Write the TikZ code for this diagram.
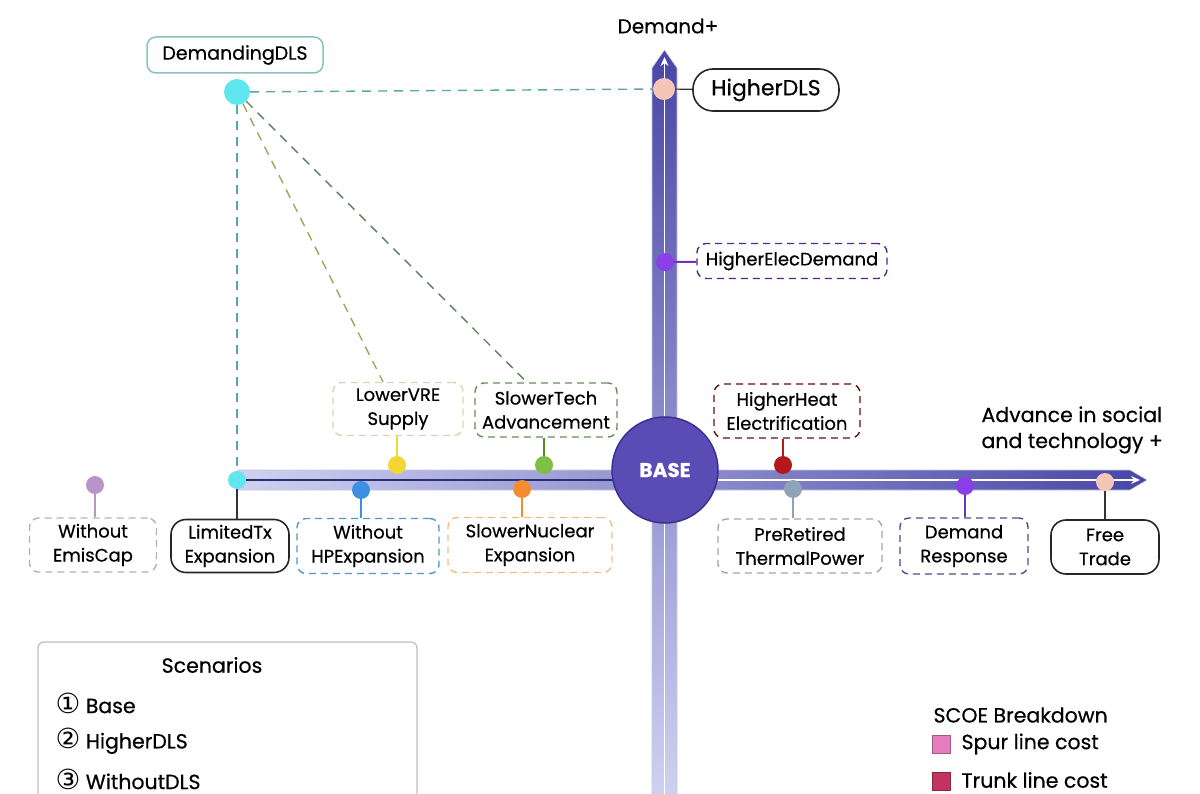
\documentclass[tikz,border=0pt]{standalone}
\usepackage{fontspec}
\setmainfont{Poppins}[FakeBold=0.5]
\newfontfamily\symfont{DejaVu Sans}[Scale=1.35]
\usepackage{xcolor}
\usepackage{tikz}
\usetikzlibrary{arrows.meta}

\definecolor{axlight}{HTML}{CFD1F0}
\definecolor{axdark}{HTML}{4846A6}
\definecolor{navyline}{HTML}{2B2D78}
\definecolor{basefill}{HTML}{5A4CB4}
\definecolor{baseedge}{HTML}{3B2F94}
\definecolor{cyandot}{HTML}{5FE6EE}
\definecolor{peachdot}{HTML}{F4C6B8}
\definecolor{purpdot}{HTML}{8B3FE6}
\definecolor{yellowdot}{HTML}{F2D634}
\definecolor{bluedot}{HTML}{3D8FE2}
\definecolor{greendot}{HTML}{7FBF45}
\definecolor{orangedot}{HTML}{F28D32}
\definecolor{reddot}{HTML}{B3191B}
\definecolor{slatedot}{HTML}{8FA2B8}
\definecolor{mauvedot}{HTML}{B994C9}
\definecolor{tealdash}{HTML}{5AA6A8}
\definecolor{olivedash}{HTML}{A8A060}
\definecolor{greendash}{HTML}{5F7F5F}
\definecolor{spurpink}{HTML}{E57DBE}
\definecolor{trunkpink}{HTML}{C2335F}

\begin{document}
\begin{tikzpicture}[x=1pt, y=-1pt,
    lbl/.style={draw, rounded corners=9pt, align=center, line width=1.4pt,
        dash pattern=on 7pt off 5pt, font=\fontsize{18}{24}\selectfont, inner sep=2pt},
    solidlbl/.style={lbl, solid, draw=black!85, line width=1.6pt, rounded corners=15pt},
    dot/.style={circle, inner sep=0pt, minimum size=18pt},
    stem/.style={line width=2pt},
    link/.style={line width=1.4pt, dash pattern=on 9pt off 7pt},
    txt/.style={font=\fontsize{20.5}{26}\selectfont}]
    \useasboundingbox (0,0) rectangle (1200,794);

    % axes
    \shade[left color=axlight, middle color=axlight, right color=axdark, draw=axdark!30, line width=0.6pt]
        (238,470) -- (1130,470) -- (1147,480) -- (1130,490) -- (238,490) -- cycle;
    \shade[top color=axdark, middle color=axlight, bottom color=axlight, draw=axdark!30, line width=0.6pt]
        (652,794) -- (652,68) -- (664.5,50) -- (677,68) -- (677,794) -- cycle;
    \draw[white, line width=1.6pt, -{Stealth[length=9pt, width=8pt]}] (664.5,794) -- (664.5,57);
    \draw[navyline, line width=2pt] (240,480) -- (615,480);
    \draw[white, line width=1.6pt, -{Stealth[length=9pt, width=8pt]}] (718,480) -- (1140,480);

    \node[font=\fontsize{20}{24}\selectfont] (ylab) at (668,26) {Demand+};
    \node[txt, align=left, anchor=west] (xlab) at (978,430) {Advance in social\\and technology +};

    \node[circle, fill=basefill, draw=baseedge, line width=1.5pt, minimum size=106pt, text=white,
        font=\fontsize{20}{22}\selectfont\bfseries] (base) at (665,470) {BASE};

    % scenario dots
    \node[dot, fill=cyandot, minimum size=26pt] (dDem) at (237,92) {};
    \node[dot, fill=peachdot, minimum size=22pt] (dHigh) at (664,89) {};
    \node[dot, fill=purpdot] (dElec) at (665,262) {};
    \node[dot, fill=cyandot] (dLtx) at (237,480) {};
    \node[dot, fill=mauvedot] (dEmis) at (95,485) {};
    \node[dot, fill=yellowdot] (dVre) at (397,465) {};
    \node[dot, fill=bluedot] (dHp) at (361,490) {};
    \node[dot, fill=greendot] (dTech) at (544,465) {};
    \node[dot, fill=orangedot] (dNuc) at (522,489) {};
    \node[dot, fill=reddot] (dHeat) at (783,465) {};
    \node[dot, fill=slatedot] (dRet) at (793,489) {};
    \node[dot, fill=purpdot] (dResp) at (965,486) {};
    \node[dot, fill=peachdot] (dFree) at (1105,482) {};

    % scenario labels
    \node[lbl, solid, draw=tealdash!70, line width=1.5pt, minimum width=176pt, minimum height=36pt,
        font=\fontsize{19}{22}\selectfont] (bDem) at (235,55) {DemandingDLS};
    \node[solidlbl, minimum width=146pt, minimum height=42pt, rounded corners=20pt,
        font=\fontsize{22}{24}\selectfont] (bHigh) at (766,90) {HigherDLS};
    \node[lbl, draw=purpdot!60!black, minimum width=190pt, minimum height=35pt] (bElec) at (792,261) {HigherElecDemand};
    \node[lbl, draw=black!30, minimum width=127pt, minimum height=54pt] (bEmis) at (93,545) {Without\\EmisCap};
    \node[solidlbl, minimum width=118pt, minimum height=53pt] (bLtx) at (230,546) {LimitedTx\\Expansion};
    \node[lbl, draw=bluedot!50!tealdash, minimum width=142pt, minimum height=55pt] (bHp) at (368,546) {Without\\HPExpansion};
    \node[lbl, draw=orangedot!60, minimum width=164pt, minimum height=55pt] (bNuc) at (530,545) {SlowerNuclear\\Expansion};
    \node[lbl, draw=olivedash!45, minimum width=130pt, minimum height=53pt] (bVre) at (398,409) {LowerVRE\\Supply};
    \node[lbl, draw=greendash!80!greendot, minimum width=142pt, minimum height=54pt] (bTech) at (546,410) {SlowerTech\\Advancement};
    \node[lbl, draw=reddot!55!black, minimum width=146pt, minimum height=54pt] (bHeat) at (787,411) {HigherHeat\\Electrification};
    \node[lbl, draw=black!35, minimum width=164pt, minimum height=54pt] (bRet) at (800,546) {PreRetired\\ThermalPower};
    \node[lbl, draw=navyline!85, minimum width=128pt, minimum height=56pt] (bResp) at (964,546) {Demand\\Response};
    \node[solidlbl, minimum width=108pt, minimum height=54pt] (bFree) at (1105,547) {Free\\Trade};

    % dashed links from DemandingDLS
    \draw[link, tealdash] (dDem) -- (dHigh);
    \draw[link, tealdash] (dDem) -- (dLtx);
    \draw[link, olivedash] (dDem) -- ([xshift=-15pt]bVre.north);
    \draw[link, greendash] (dDem) -- ([xshift=-19pt]bTech.north);

    % stems
    \draw[line width=1.2pt, black!80] (dHigh) -- (bHigh);
    \draw[stem, purpdot!80!black] (dElec) -- (bElec);
    \draw[stem, black!80] (dLtx) -- (dLtx |- bLtx.north);
    \draw[stem, mauvedot] (dEmis) -- (dEmis |- bEmis.north);
    \draw[stem, yellowdot] (dVre) -- (dVre |- bVre.south);
    \draw[stem, bluedot] (dHp) -- (dHp |- bHp.north);
    \draw[stem, greendot!70!black] (dTech) -- (dTech |- bTech.south);
    \draw[stem, orangedot] (dNuc) -- (dNuc |- bNuc.north);
    \draw[stem, reddot] (dHeat) -- (dHeat |- bHeat.south);
    \draw[stem, slatedot] (dRet) -- (dRet |- bRet.north);
    \draw[stem, purpdot!80!black] (dResp) -- (dResp |- bResp.north);
    \draw[stem, black!80] (dFree) -- (dFree |- bFree.north);

    % legends
    \draw[black!25, line width=1.3pt, rounded corners=6pt] (38,794) -- (38,642) -- (417,642) -- (417,794);
    \node[txt] (scen) at (212,665) {Scenarios};
    \node[txt, anchor=west] (s1) at (52,703) {{\symfont ①} Base};
    \node[txt, anchor=west] (s2) at (52,741) {{\symfont ②} HigherDLS};
    \node[txt, anchor=west] (s3) at (52,779) {{\symfont ③} WithoutDLS};

    \node[txt, anchor=west] (scoe) at (930,715) {SCOE Breakdown};
    \node[draw=spurpink!70!black, fill=spurpink, minimum size=18pt, inner sep=0pt] (qSpur) at (941,744) {};
    \node[txt, anchor=west] (lSpur) at (958,744) {Spur line cost};
    \node[draw=trunkpink!70!black, fill=trunkpink, minimum size=18pt, inner sep=0pt] (qTrunk) at (941,781) {};
    \node[txt, anchor=west] (lTrunk) at (958,780) {Trunk line cost};
\end{tikzpicture}
\end{document}
